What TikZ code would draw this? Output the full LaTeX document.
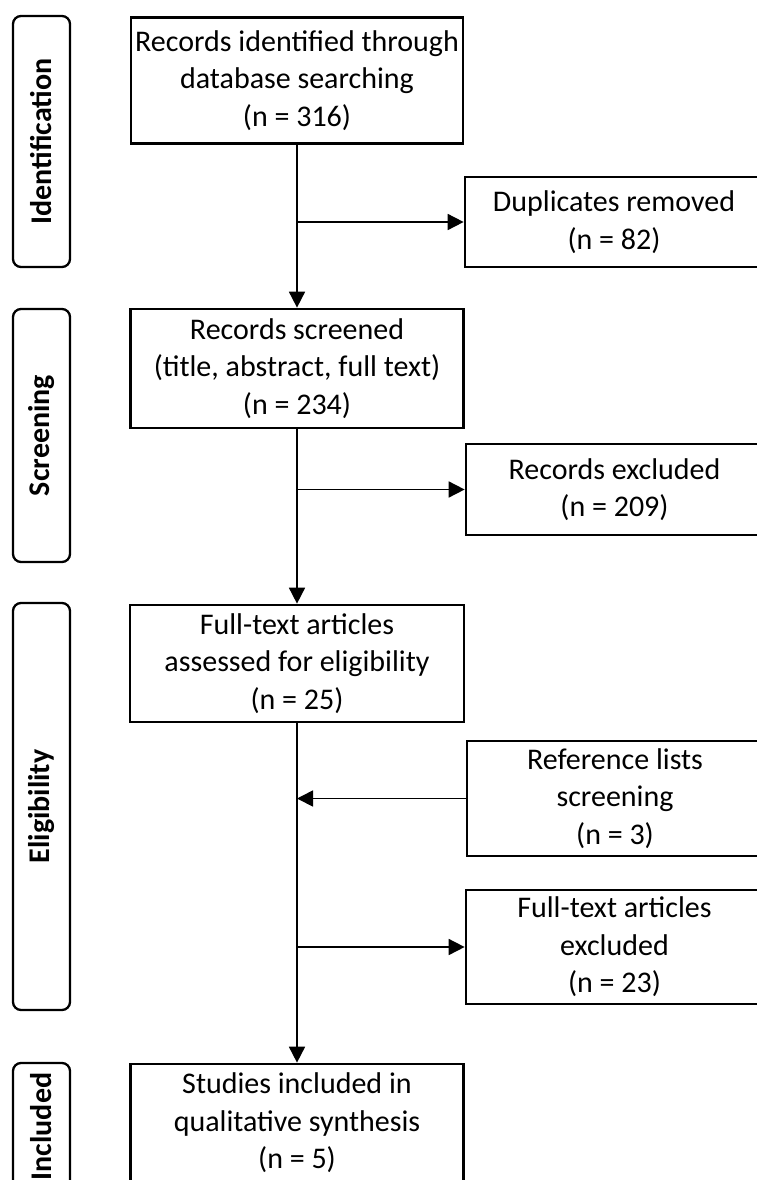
\documentclass[tikz,border=0pt]{standalone}
\usepackage{fontspec}
\setmainfont{Carlito}
\usetikzlibrary{arrows.meta}
\begin{document}
\begin{tikzpicture}[x=1pt,y=-1pt,
  box/.style={draw, line width=2.7pt, inner sep=0pt, align=center,
    font=\fontsize{30}{37.5}\selectfont},
  phase/.style={draw, line width=2.3pt, rounded corners=8pt, rotate=90,
    minimum width=#1, minimum height=57pt, inner sep=0pt,
    font=\bfseries\fontsize{30}{36}\selectfont},
  arr/.style={line width=1.7pt, -{Triangle[length=16pt,width=16pt]}}]
\useasboundingbox (0,0) rectangle (757,1180);
\clip (0,0) rectangle (757,1180);

% phase labels
\node[phase=251] (pid) at (41.5,141.5) {Identification};
\node[phase=253] (psc) at (41.5,435.5) {Screening};
\node[phase=407] (pel) at (41.5,806.5) {Eligibility};
\node[phase=127] (pin) at (41.5,1126.5) {Included};

% main boxes
\node[box, minimum width=332pt, minimum height=126pt] (b1) at (297,80.5)
  {Records identified through\\database searching\\(n = 316)};
\node[box, minimum width=333pt, minimum height=119pt] (b2) at (297,368.5)
  {Records screened\\(title, abstract, full text)\\(n = 234)};
\node[box, minimum width=334pt, minimum height=117pt] (b3) at (297,663.5)
  {Full-text articles\\assessed for eligibility\\(n = 25)};
\node[box, minimum width=333pt, minimum height=118pt] (b4) at (297,1123)
  {Studies included in\\qualitative synthesis\\(n = 5)};

% side boxes
\node[box, minimum width=298pt, minimum height=90pt] (dup) at (614,222)
  {Duplicates removed\\(n = 82)};
\node[box, minimum width=297pt, minimum height=91pt] (rex) at (614.5,489.5)
  {Records excluded\\(n = 209)};
\node[box, minimum width=296pt, minimum height=115pt] (ref) at (615,798.5)
  {Reference lists\\screening\\(n = 3)};
\node[box, minimum width=297pt, minimum height=114pt] (fex) at (614.5,947)
  {Full-text articles\\excluded\\(n = 23)};

% connectors
\draw[arr] (b1.south) -- (b2.north);
\draw[arr] (b2.south) -- (b3.north);
\draw[arr] (b3.south) -- (b4.north);
\draw[arr] (b1.south |- dup.west) -- (dup.west);
\draw[arr] (b2.south |- rex.west) -- (rex.west);
\draw[arr] (ref.west) -- (b3.south |- ref.west);
\draw[arr] (b3.south |- fex.west) -- (fex.west);
\end{tikzpicture}
\end{document}
